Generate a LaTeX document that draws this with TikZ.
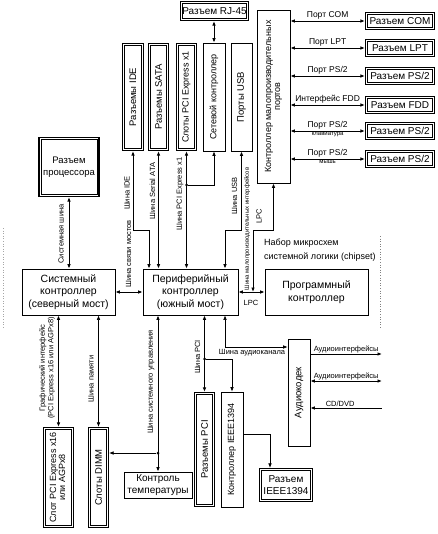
\documentclass[tikz,border=0pt]{standalone}
\usepackage{fontspec}
\setmainfont{Liberation Sans}
\usetikzlibrary{arrows.meta,calc}
\newcommand\myrot[1]{\rotatebox{90}{#1}}
\begin{document}
\begin{tikzpicture}[x=1pt,y=-1pt,
  >={Latex[length=4.5pt,width=3.6pt]},
  box/.style={draw,line width=0.7pt,inner sep=0pt,align=center,font=\fontsize{10.5}{12.5}\selectfont},
  dbox/.style={box,line width=1.2pt,
    append after command={\pgfextra{\draw[line width=0.5pt]
      ($(\tikzlastnode.north west)+(2.4,2.4)$) rectangle ($(\tikzlastnode.south east)+(-2.4,-2.4)$);}}},
  cfont/.style={font=\fontsize{10}{11.5}\selectfont},
  pfont/.style={font=\fontsize{9.5}{11.5}\selectfont},
  vfont/.style={font=\fontsize{9.5}{10.5}\selectfont},
  nfont/.style={font=\fontsize{9}{10}\selectfont},
  bus/.style={line width=0.9pt},
  thinbus/.style={line width=0.6pt},
  lbl/.style={font=\fontsize{7.5}{8.5}\selectfont,inner sep=0.8pt},
  plbl/.style={font=\fontsize{8.5}{9.5}\selectfont,inner sep=1pt},
  slbl/.style={font=\fontsize{6}{7}\selectfont,inner sep=0.5pt},
  jdot/.style={circle,fill,inner sep=0pt,minimum size=3pt}
]
\useasboundingbox (0,0) rectangle (437,534);

% top row
\node[dbox,cfont,minimum width=68,minimum height=19] (rj) at (214.5,11) {Разъем RJ-45};
\node[dbox,vfont,minimum width=21,minimum height=107] (ide) at (133,97) {\myrot{Разъемы IDE}};
\node[dbox,vfont,minimum width=20,minimum height=107] (sata) at (158.5,97) {\myrot{Разъемы SATA}};
\node[dbox,nfont,minimum width=20,minimum height=107] (pcie1) at (186.5,97) {\myrot{Слоты PCI Express x1}};
\node[box,nfont,minimum width=22,minimum height=108] (net) at (214,97) {\myrot{Сетевой контроллер}};
\node[box,vfont,minimum width=21,minimum height=108] (usb) at (241.5,97) {\myrot{Порты USB}};
\node[box,nfont,minimum width=33,minimum height=173] (lpcctl) at (273.5,96.5)
  {\myrot{\begin{tabular}{@{}c@{}}Контроллер малопроизводительных\\[-1pt]портов\end{tabular}}};

% right connectors
\node[dbox,cfont,minimum width=69,minimum height=17] (com) at (400,21) {Разъем COM};
\node[dbox,cfont,minimum width=69,minimum height=17] (lpt) at (400,48) {Разъем LPT};
\node[dbox,cfont,minimum width=69,minimum height=17] (ps1) at (400,76) {Разъем PS/2};
\node[dbox,cfont,minimum width=69,minimum height=17] (fdd) at (400,105) {Разъем FDD};
\node[dbox,cfont,minimum width=69,minimum height=17] (kbd) at (400,131) {Разъем PS/2};
\node[dbox,cfont,minimum width=69,minimum height=17] (mouse) at (400,159) {Разъем PS/2};

% middle
\node[dbox,pfont,minimum width=60,minimum height=59] (cpu) at (69,167) {Разъем\\процессора};
\node[box,minimum width=93,minimum height=46] (north) at (68.5,292) {Системный\\контроллер\\(северный мост)};
\node[box,minimum width=95,minimum height=46] (south) at (190.5,292) {Периферийный\\контроллер\\(южный мост)};
\node[box,minimum width=103,minimum height=46] (prog) at (316.5,292) {Программный\\контроллер};
\node[anchor=north west,align=left,inner sep=0pt,font=\fontsize{9}{13.5}\selectfont] (chip) at (264,239)
  {Набор микросхем\\системной логики (chipset)};

% bottom
\node[dbox,nfont,minimum width=30,minimum height=100] (pcie16) at (58.5,477.5)
  {\myrot{\begin{tabular}{@{}c@{}}Слот PCI Express x16\\[-1pt]или AGPx8\end{tabular}}};
\node[dbox,vfont,minimum width=20,minimum height=100] (dimm) at (98.5,477.5) {\myrot{Слоты DIMM}};
\node[box,cfont,minimum width=68,minimum height=26] (temp) at (158,485) {Контроль\\температуры};
\node[dbox,vfont,minimum width=20,minimum height=114] (pcis) at (204.5,449.5) {\myrot{Разъемы PCI}};
\node[box,nfont,minimum width=22,minimum height=115] (ieeec) at (232,449.5) {\myrot{Контроллер IEEE1394}};
\node[dbox,cfont,minimum width=53,minimum height=33] (ieeej) at (286,485) {Разъем\\IEEE1394};
\node[box,vfont,minimum width=22,minimum height=107] (codec) at (299,392.5) {\myrot{Аудиокодек}};

% dotted frame marks
\draw[dotted,gray,line width=0.6pt] (380,236) -- (380,328);
\draw[dotted,gray!70,line width=0.6pt] (3,228) -- (3,328);

% RJ-45
\draw[bus,<->] (net.north |- rj.south) -- (net.north);

% ports
\draw[bus,<->] (lpcctl.east |- com.west) -- node[plbl,above]{Порт COM} (com.west);
\draw[bus,<->] (lpcctl.east |- lpt.west) -- node[plbl,above]{Порт LPT} (lpt.west);
\draw[bus,<->] (lpcctl.east |- ps1.west) -- node[plbl,above]{Порт PS/2} (ps1.west);
\draw[bus,<->] (lpcctl.east |- fdd.west) -- node[plbl,above]{Интерфейс FDD} (fdd.west);
\draw[bus,<->] (lpcctl.east |- kbd.west) -- node[plbl,above]{Порт PS/2} node[slbl,below]{клавиатура} (kbd.west);
\draw[bus,<->] (lpcctl.east |- mouse.west) -- node[plbl,above]{Порт PS/2} node[slbl,below]{мышь} (mouse.west);

% CPU, bridges
\draw[bus,<->] (cpu.south) -- (cpu.south |- north.north);
\node[lbl,rotate=90] (lcpu) at (61,234) {Системная шина};
\draw[bus,<->] (north.east) -- (south.west);
\node[lbl,rotate=90] (lbr) at (128.5,254) {Шина связи мостов};
\draw[bus,<->] (north.south -| pcie16.north) -- (pcie16.north);
\node[lbl,rotate=90,align=center] (lgr) at (47,368) {Графический интерфейс\\(PCI Express x16 или AGPx8)};
\draw[thinbus,<->] (north.south -| dimm.north) -- (dimm.north);
\node[lbl,rotate=90] (lmem) at (91,379) {Шина памяти};

% south top buses
\coordinate (idek) at (149,230);
\draw[bus,<->] (ide.south) |- (idek) -- (idek |- south.north);
\node[lbl,rotate=90] (lide) at (127,193) {Шина IDE};
\draw[bus,<->] (sata.south) -- (sata.south |- south.north);
\node[lbl,rotate=90] (lsata) at (152.5,191) {Шина Serial ATA};
\draw[bus,<->] (pcie1.south) -- (pcie1.south |- south.north);
\node[jdot] (j1) at (186.5,185) {};
\draw[thinbus,<-] (net.south) |- (j1);
\node[lbl,rotate=90] (lpx) at (180,194) {Шина PCI Express x1};
\coordinate (usbk) at (225,230);
\draw[bus,<->] (usb.south) |- (usbk) -- (usbk |- south.north);
\node[lbl,rotate=90] (lusb) at (234.5,196) {Шина USB};

% LPC
\draw[bus,<->] (south.east) -- (prog.west);
\node[lbl] (llpc) at (251,303) {LPC};
\coordinate (lpck) at (253,230);
\coordinate (lpcj) at (253,292);
\draw[bus,<->] (lpcctl.south) |- (lpck) -- (lpcj);
\node[slbl,rotate=90] (llpi) at (247.2,229) {Шина малопроизводительных интерфейсов};
\node[lbl,rotate=90] (llpc2) at (259,216) {LPC};

% south bottom buses
\node[jdot] (tj) at (158,453) {};
\draw[bus,<->] (south.south -| tj) -- (tj |- temp.north);
\draw[thinbus,->] (tj) -- (tj -| dimm.east);
\node[lbl,rotate=90] (lsm) at (151,382) {Шина системного управления};
\node[jdot] (pj) at (204.5,359) {};
\draw[bus,<->] (south.south -| pj) -- (pj |- pcis.north);
\draw[thinbus,->] (pj) -| (ieeec.north);
\node[lbl,rotate=90] (lpci) at (197.5,357) {Шина PCI};
\coordinate (ak) at (225,347);
\draw[thinbus,<->] (south.south -| ak) |- (ak -| codec.west);
\node[lbl] (laud) at (252,353) {Шина аудиоканала};
\coordinate (ie) at (270,434);
\draw[thinbus,->] (ie -| ieeec.east) -- (ie) -- (ie |- ieeej.north);

% codec outputs
\coordinate (ao1) at (382,354);
\coordinate (ao2) at (382,381);
\coordinate (ao3) at (382,408);
\draw[bus,->] (codec.east |- ao1) -- node[lbl,above]{Аудиоинтерфейсы} (ao1);
\draw[bus,<->] (codec.east |- ao2) -- node[lbl,above]{Аудиоинтерфейсы} (ao2);
\draw[bus,<-] (codec.east |- ao3) -- node[lbl,above,xshift=-6pt]{CD/DVD} (ao3);
\end{tikzpicture}
\end{document}
